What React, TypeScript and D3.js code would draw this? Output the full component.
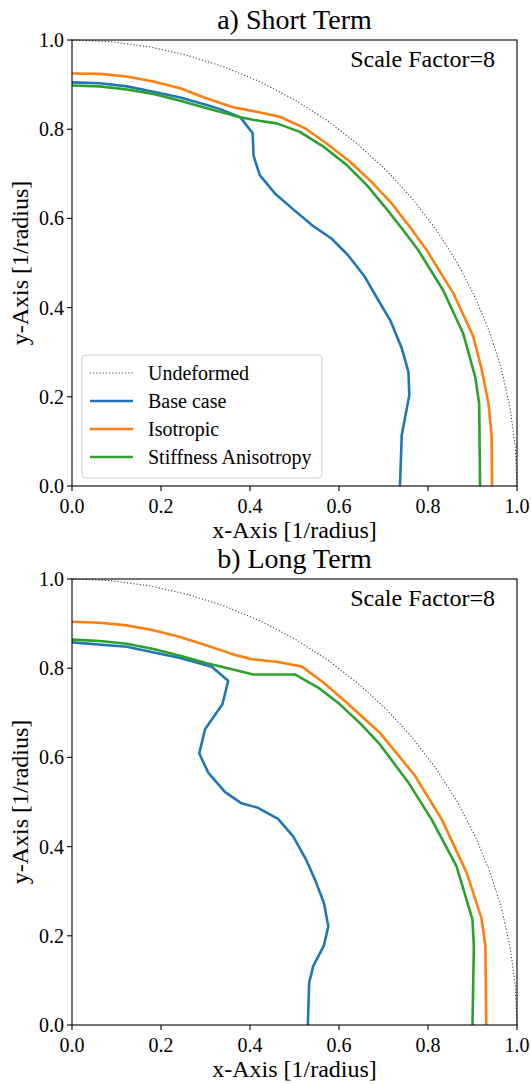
import React from 'react';
import * as d3 from 'd3';

type Pt = [number, number];

// unit circle, every 5 degrees
const undeformed: Pt[] = [
  [1, 0], [0.9962, 0.0872], [0.9848, 0.1736], [0.9659, 0.2588], [0.9397, 0.342],
  [0.9063, 0.4226], [0.866, 0.5], [0.8192, 0.5736], [0.766, 0.6428], [0.7071, 0.7071],
  [0.6428, 0.766], [0.5736, 0.8192], [0.5, 0.866], [0.4226, 0.9063], [0.342, 0.9397],
  [0.2588, 0.9659], [0.1736, 0.9848], [0.0872, 0.9962], [0, 1],
];

const shortBase: Pt[] = [
  [0, 0.905], [0.063, 0.903], [0.123, 0.896], [0.183, 0.884], [0.243, 0.871], [0.303, 0.854],
  [0.333, 0.845], [0.378, 0.827], [0.406, 0.791], [0.408, 0.74], [0.422, 0.697], [0.456, 0.656],
  [0.494, 0.623], [0.539, 0.585], [0.583, 0.555], [0.62, 0.518], [0.658, 0.469], [0.688, 0.417],
  [0.715, 0.372], [0.741, 0.309], [0.756, 0.256], [0.758, 0.204], [0.741, 0.114], [0.737, 0],
];
const shortIso: Pt[] = [
  [0, 0.925], [0.063, 0.924], [0.123, 0.918], [0.183, 0.907], [0.243, 0.892], [0.303, 0.869],
  [0.362, 0.849], [0.415, 0.839], [0.467, 0.828], [0.524, 0.802], [0.572, 0.768], [0.625, 0.727],
  [0.673, 0.682], [0.718, 0.634], [0.756, 0.585], [0.797, 0.529], [0.857, 0.432], [0.902, 0.335],
  [0.92, 0.264], [0.936, 0.185], [0.943, 0.111], [0.944, 0],
];
const shortStiff: Pt[] = [
  [0, 0.898], [0.063, 0.896], [0.123, 0.889], [0.183, 0.879], [0.243, 0.864], [0.303, 0.847],
  [0.378, 0.827], [0.407, 0.821], [0.46, 0.813], [0.512, 0.794], [0.565, 0.761], [0.617, 0.72],
  [0.662, 0.675], [0.703, 0.626], [0.741, 0.578], [0.778, 0.529], [0.834, 0.439], [0.879, 0.342],
  [0.906, 0.245], [0.915, 0.185], [0.917, 0],
];

const longBase: Pt[] = [
  [0, 0.858], [0.123, 0.848], [0.243, 0.823], [0.314, 0.803], [0.351, 0.772], [0.338, 0.719],
  [0.299, 0.663], [0.286, 0.609], [0.306, 0.566], [0.344, 0.522], [0.381, 0.497], [0.418, 0.487],
  [0.463, 0.462], [0.497, 0.423], [0.526, 0.371], [0.546, 0.326], [0.566, 0.274], [0.576, 0.221],
  [0.566, 0.178], [0.542, 0.132], [0.533, 0.095], [0.53, 0],
];
const longIso: Pt[] = [
  [0, 0.904], [0.063, 0.902], [0.123, 0.896], [0.183, 0.885], [0.243, 0.87], [0.303, 0.851],
  [0.362, 0.831], [0.404, 0.82], [0.463, 0.814], [0.516, 0.804], [0.565, 0.768], [0.617, 0.723],
  [0.662, 0.682], [0.692, 0.655], [0.77, 0.56], [0.831, 0.461], [0.887, 0.341], [0.92, 0.24],
  [0.929, 0.177], [0.931, 0],
];
const longStiff: Pt[] = [
  [0, 0.864], [0.063, 0.861], [0.123, 0.855], [0.183, 0.843], [0.243, 0.828], [0.303, 0.811],
  [0.355, 0.799], [0.407, 0.786], [0.501, 0.786], [0.554, 0.756], [0.602, 0.719], [0.65, 0.674],
  [0.692, 0.629], [0.755, 0.545], [0.808, 0.461], [0.864, 0.356], [0.9, 0.236], [0.903, 0.177],
  [0.9, 0],
];

const ticks = [0, 0.2, 0.4, 0.6, 0.8, 1.0];
const legendNames = ['Undeformed', 'Base case', 'Isotropic', 'Stiffness Anisotropy'];
const colors = ['#444444', '#1f77b4', '#ff7f0e', '#2ca02c'];

const FONT = '"Liberation Serif", "Times New Roman", "DejaVu Serif", serif';

const Panel = ({ top, title, base, iso, stiff, legend }:
  { top: number; title: string; base: Pt[]; iso: Pt[]; stiff: Pt[]; legend: boolean }) => {
  const left = 72, right = 517, h = 446;
  const x = d3.scaleLinear().domain([0, 1]).range([left, right]);
  const y = d3.scaleLinear().domain([0, 1]).range([top + h, top]);
  const line = d3.line<Pt>().x(d => x(d[0])).y(d => y(d[1]));
  const cx = (left + right) / 2;

  return (
    <g fontFamily={FONT} fill="#000">
      <text x={cx} y={top - 11} textAnchor="middle" fontSize={28}>{title}</text>

      <path d={line(undeformed) || ''} fill="none" stroke={colors[0]} strokeWidth={1.1} strokeDasharray="1.2,2" />
      <path d={line(base) || ''} fill="none" stroke={colors[1]} strokeWidth={2.6} strokeLinejoin="round" />
      <path d={line(iso) || ''} fill="none" stroke={colors[2]} strokeWidth={2.6} strokeLinejoin="round" />
      <path d={line(stiff) || ''} fill="none" stroke={colors[3]} strokeWidth={2.6} strokeLinejoin="round" />

      <rect x={left} y={top} width={right - left} height={h} fill="none" stroke="#000" strokeWidth={1.1} />

      {ticks.map(t => (
        <g key={'x' + t}>
          <line x1={x(t)} x2={x(t)} y1={top + h} y2={top + h + 5} stroke="#000" strokeWidth={1.1} />
          <text x={x(t)} y={top + h + 27} textAnchor="middle" fontSize={20}>{t.toFixed(1)}</text>
        </g>
      ))}
      {ticks.map(t => (
        <g key={'y' + t}>
          <line x1={left - 5} x2={left} y1={y(t)} y2={y(t)} stroke="#000" strokeWidth={1.1} />
          <text x={left - 8} y={y(t) + 7} textAnchor="end" fontSize={20}>{t.toFixed(1)}</text>
        </g>
      ))}

      <text x={cx} y={top + h + 52} textAnchor="middle" fontSize={24}>x-Axis [1/radius]</text>
      <text transform={`translate(28,${top + h / 2}) rotate(-90)`} textAnchor="middle" fontSize={24}>y-Axis [1/radius]</text>

      <text x={495} y={top + 27} textAnchor="end" fontSize={24}>Scale Factor=8</text>

      {legend && (
        <g>
          <rect x={82} y={top + 315} width={240} height={123} rx={4} fill="#fff" fillOpacity={0.8} stroke="#cccccc" strokeWidth={1} />
          {legendNames.map((n, i) => (
            <g key={n}>
              <line x1={90} x2={133} y1={top + 333 + i * 28} y2={top + 333 + i * 28}
                stroke={colors[i]} strokeWidth={i === 0 ? 1.1 : 2.6}
                strokeDasharray={i === 0 ? '1.2,2' : undefined} />
              <text x={148} y={top + 340 + i * 28} fontSize={20}>{n}</text>
            </g>
          ))}
        </g>
      )}
    </g>
  );
};

export default function App() {
  return (
    <svg width={531} height={1084} style={{ position: 'absolute', left: 0, top: 0, background: '#fff' }}>
      <rect width={531} height={1084} fill="#fff" />
      <Panel top={40} title="a) Short Term" base={shortBase} iso={shortIso} stiff={shortStiff} legend={true} />
      <Panel top={579} title="b) Long Term" base={longBase} iso={longIso} stiff={longStiff} legend={false} />
    </svg>
  );
}
